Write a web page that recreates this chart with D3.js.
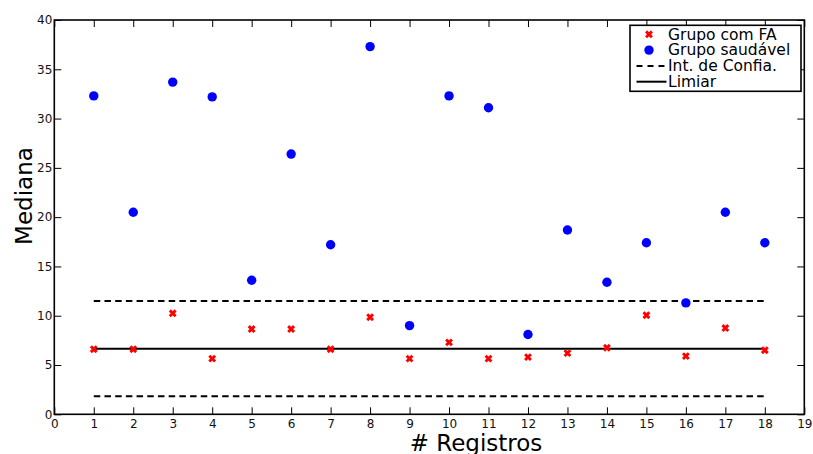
<!DOCTYPE html>
<html>
<head>
<meta charset="utf-8">
<script src="https://cdn.jsdelivr.net/npm/d3@7"></script>
<style>
  html, body { margin: 0; padding: 0; background: #fff; }
  svg { display: block; font-family: "DejaVu Sans", sans-serif; }
</style>
</head>
<body>
<svg id="chart" width="813" height="454"></svg>
<script>
// Registro numbers on the x axis
const registros = [1, 2, 3, 4, 5, 6, 7, 8, 9, 10, 11, 12, 13, 14, 15, 16, 17, 18];

// Median per registro, atrial fibrillation group
const grupoFA = [6.6, 6.6, 10.25, 5.65, 8.65, 8.65, 6.6, 9.85, 5.65, 7.3, 5.65, 5.8, 6.2, 6.75, 10.05, 5.9, 8.75, 6.5];

// Median per registro, healthy group
const grupoSaudavel = [32.3, 20.5, 33.7, 32.2, 13.6, 26.4, 17.2, 37.3, 9.0, 32.3, 31.1, 8.1, 18.7, 13.4, 17.4, 11.3, 20.5, 17.4];

// Threshold and confidence interval bounds
const limiar = 6.66;
const intConfianca = [1.83, 11.5];

// Axis ticks
const xTicks = d3.range(0, 20);
const yTicks = [0, 5, 10, 15, 20, 25, 30, 35, 40];

const legendItems = ["Grupo com FA", "Grupo saudável", "Int. de Confia.", "Limiar"];

const svg = d3.select("#chart");
const x = d3.scaleLinear().domain([0, 19]).range([54.3, 804.3]);
const y = d3.scaleLinear().domain([0, 40]).range([414.3, 20]);

const lineStart = d3.min(registros), lineEnd = d3.max(registros);

// Confidence interval (dashed)
svg.append("g").selectAll("line").data(intConfianca).join("line")
  .attr("x1", x(lineStart)).attr("x2", x(lineEnd))
  .attr("y1", d => y(d)).attr("y2", d => y(d))
  .attr("stroke", "#000").attr("stroke-width", 2)
  .attr("stroke-dasharray", "6.5,4.2");

// Threshold (solid)
svg.append("line")
  .attr("x1", x(lineStart)).attr("x2", x(lineEnd))
  .attr("y1", y(limiar)).attr("y2", y(limiar))
  .attr("stroke", "#000").attr("stroke-width", 2);

// Cross marker path
const crossPath = (cx, cy, r) =>
  `M${cx - r},${cy - r}L${cx + r},${cy + r}M${cx - r},${cy + r}L${cx + r},${cy - r}`;

// Healthy group points
svg.append("g").selectAll("circle").data(grupoSaudavel).join("circle")
  .attr("cx", (d, i) => x(registros[i]))
  .attr("cy", d => y(d))
  .attr("r", 4.7)
  .attr("fill", "#0000ff");

// AF group points
svg.append("g").selectAll("path").data(grupoFA).join("path")
  .attr("d", (d, i) => crossPath(x(registros[i]), y(d), 2.9))
  .attr("stroke", "#ff0000").attr("stroke-width", 2.9).attr("fill", "none");

// Axes with inward ticks on all four sides
const tickLen = 7;
const gx = svg.append("g").attr("transform", `translate(0,${y(0)})`)
  .call(d3.axisBottom(x).tickValues(xTicks).tickSizeInner(-tickLen).tickSizeOuter(0).tickPadding(5.5));
const gy = svg.append("g").attr("transform", `translate(${x(0)},0)`)
  .call(d3.axisLeft(y).tickValues(yTicks).tickSizeInner(-tickLen).tickSizeOuter(0).tickPadding(2));
const gt = svg.append("g").attr("transform", `translate(0,${y(40)})`)
  .call(d3.axisTop(x).tickValues(xTicks).tickSizeInner(-tickLen).tickSizeOuter(0).tickFormat(""));
const gr = svg.append("g").attr("transform", `translate(${x(19)},0)`)
  .call(d3.axisRight(y).tickValues(yTicks).tickSizeInner(-tickLen).tickSizeOuter(0).tickFormat(""));

[gx, gy, gt, gr].forEach(g => {
  g.select(".domain").remove();
  g.selectAll(".tick line").attr("stroke", "#000").attr("stroke-width", 1);
  g.selectAll(".tick text").attr("fill", "#111")
    .style("font-family", "'DejaVu Sans', sans-serif").style("font-size", "12px");
});

// Plot frame
svg.append("rect")
  .attr("x", x(0)).attr("y", y(40))
  .attr("width", x(19) - x(0)).attr("height", y(0) - y(40))
  .attr("fill", "none").attr("stroke", "#000").attr("stroke-width", 1.6);

// Axis titles
svg.append("text")
  .attr("transform", "translate(32,196) rotate(-90)")
  .attr("text-anchor", "middle")
  .style("font-size", "23px").attr("fill", "#000")
  .text("Mediana");

svg.append("text")
  .attr("x", 476).attr("y", 451)
  .attr("text-anchor", "middle")
  .style("font-size", "23px").attr("fill", "#000")
  .text("# Registros");

// Legend
const lg = svg.append("g").attr("transform", "translate(630,25.3)");
lg.append("rect").attr("width", 171).attr("height", 66)
  .attr("fill", "#fff").attr("stroke", "#000").attr("stroke-width", 1.6);

const rowY = i => 9 + i * 15.8;
const rows = lg.selectAll("g.row").data(legendItems).join("g")
  .attr("class", "row")
  .attr("transform", (d, i) => `translate(0,${rowY(i)})`);

rows.append("text")
  .attr("x", 38).attr("y", 5.3)
  .style("font-size", "15.5px").attr("fill", "#000")
  .text(d => d);

lg.append("path").attr("d", crossPath(19, rowY(0), 2.9))
  .attr("stroke", "#ff0000").attr("stroke-width", 2.9).attr("fill", "none");
lg.append("circle").attr("cx", 19).attr("cy", rowY(1)).attr("r", 4.7).attr("fill", "#0000ff");
lg.append("line").attr("x1", 6.5).attr("x2", 36.5).attr("y1", rowY(2)).attr("y2", rowY(2))
  .attr("stroke", "#000").attr("stroke-width", 2).attr("stroke-dasharray", "6,5");
lg.append("line").attr("x1", 6.5).attr("x2", 36.5).attr("y1", rowY(3)).attr("y2", rowY(3))
  .attr("stroke", "#000").attr("stroke-width", 2);
</script>
</body>
</html>
